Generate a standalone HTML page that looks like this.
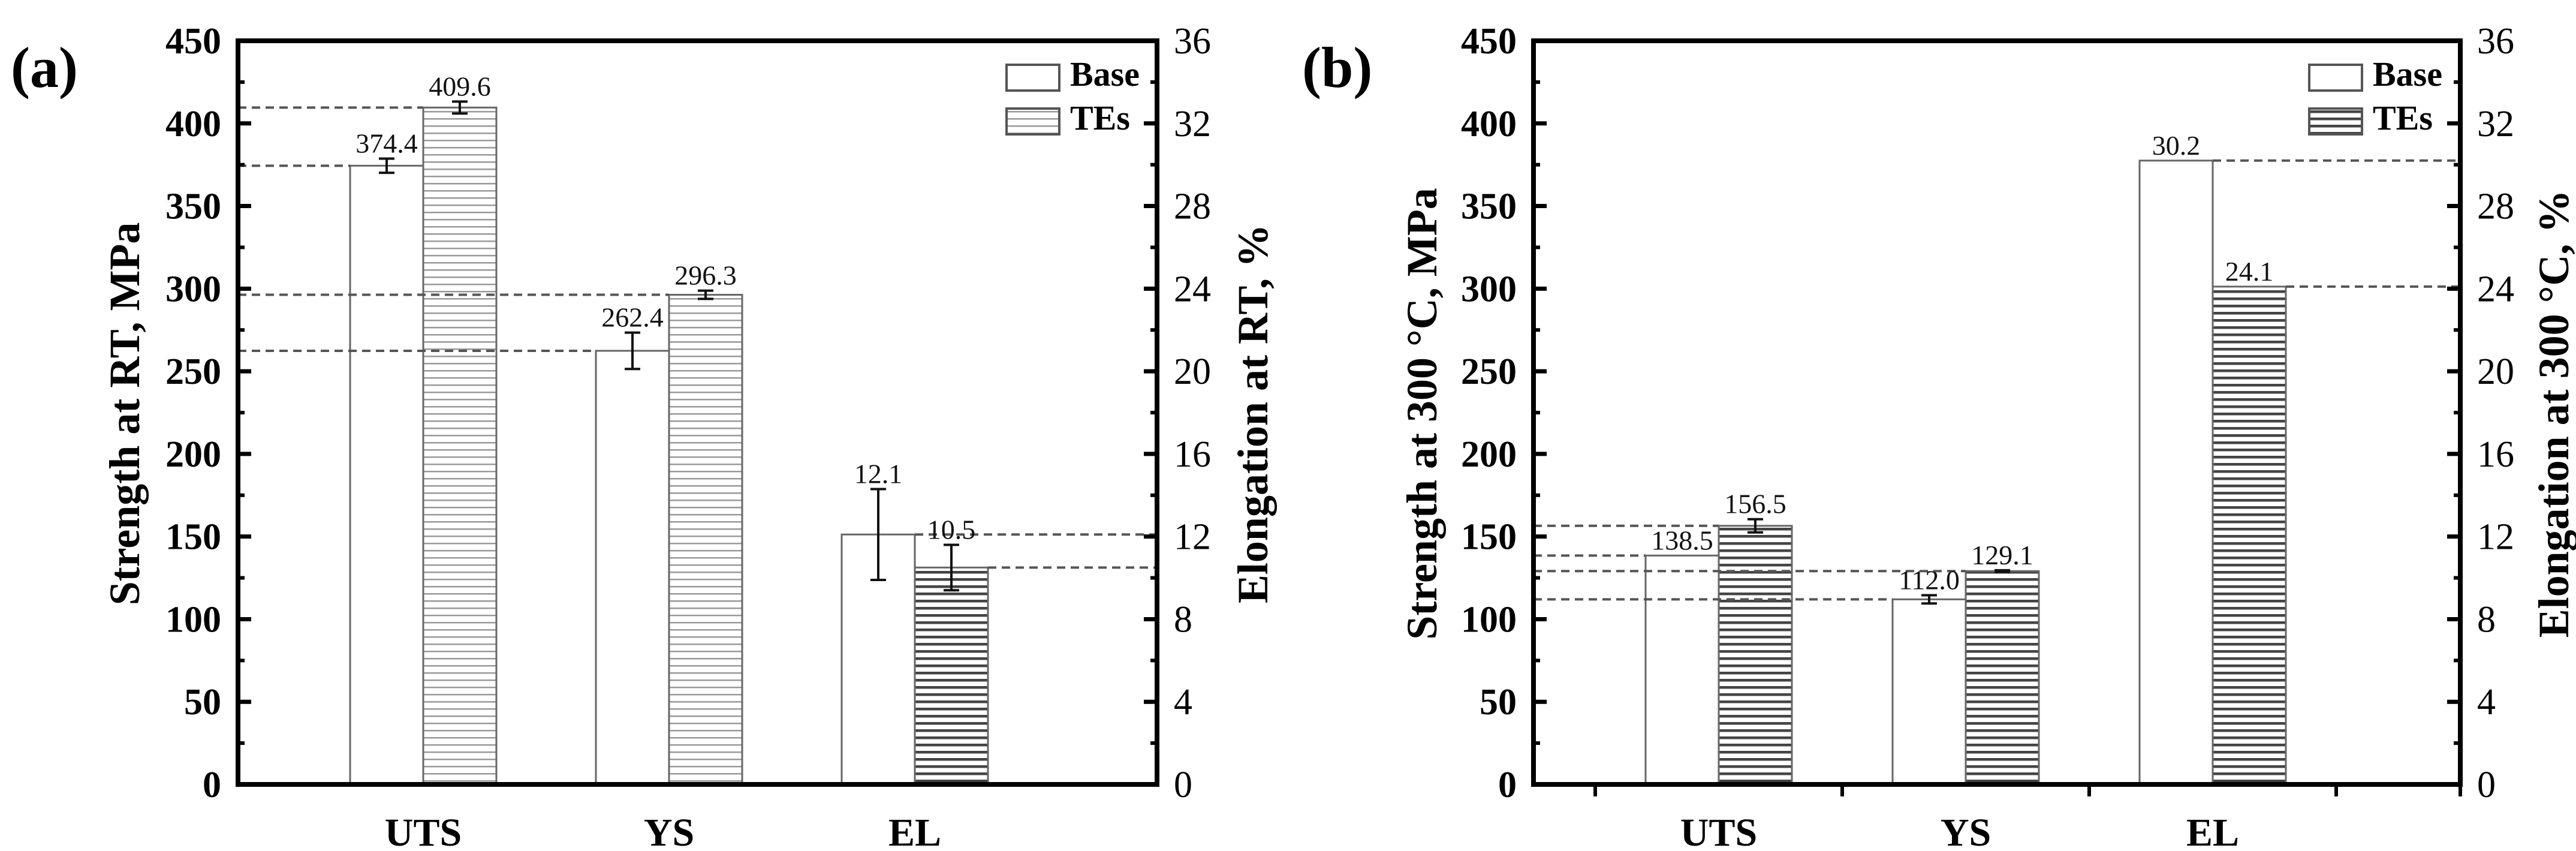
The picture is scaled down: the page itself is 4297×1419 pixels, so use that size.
<!DOCTYPE html>
<html><head><meta charset="utf-8"><style>
html,body{margin:0;padding:0;background:#fff}
svg{display:block}
text{font-family:"Liberation Serif",serif}
</style></head><body>
<svg id="fig" width="4297" height="1419" viewBox="0 0 4297 1419" xmlns="http://www.w3.org/2000/svg">
<defs>
<pattern id="hLight" patternUnits="userSpaceOnUse" width="12" height="12"><rect width="12" height="12" fill="#fff"/><rect y="5" width="12" height="2.5" fill="#999"/></pattern>
<pattern id="hDark" patternUnits="userSpaceOnUse" width="12" height="12"><rect width="12" height="12" fill="#fff"/><rect y="4" width="12" height="4.5" fill="#444"/></pattern>
</defs>
</svg>
<script>
const categories = ["UTS","YS","EL"];
// panel a (RT)
const aBase = [374.4, 262.4, 12.1];
const aTEs = [409.6, 296.3, 10.5];
const aBaseErr = [4.3, 11, 2.2];
const aTEsErr = [3.6, 2.5, 1.1];
// panel b (300 C)
const bBase = [138.5, 112.0, 30.2];
const bTEs = [156.5, 129.1, 24.1];
const bBaseErr = [0, 2.5, 0];
const bTEsErr = [4, 0.5, 0];
const leftTicks = [0,50,100,150,200,250,300,350,400,450];
const rightTicks = [0,4,8,12,16,20,24,28,32,36];

const NS = "http://www.w3.org/2000/svg";
const svg = document.getElementById('fig');
function el(tag, attrs, parent, txt){
  const e = document.createElementNS(NS, tag);
  for (const k in attrs) e.setAttribute(k, attrs[k]);
  if (txt !== undefined) e.textContent = txt;
  (parent||svg).appendChild(e);
  return e;
}
const Y0 = 1308, YT = 68;
function yL(v){ return Y0 - v*(Y0-YT)/450; }
function yR(v){ return Y0 - v*(Y0-YT)/36; }

function panel(o){
  const g = el('g', {});
  
  
  const L=o.left, R=o.right;
  const cx = i => o.c0 + o.step*i;
  const bw = 122;
  // bars
  for (let i=0;i<3;i++){
    const f = i<2 ? yL : yR;
    const series = [[o.base,o.baseErr,cx(i)-bw,'#fff','base'],[o.tes,o.tesErr,cx(i),o.hatch[i],'tes']];
    for (const [vals,errs,x,fill,nm] of series){
      const v = vals[i], top = f(v);
      const r = el('rect',{x:x,y:top,width:bw,height:Y0-top,fill:fill,stroke:'#666','stroke-width':3},g);
      
      
    }
  }
  // dashed reference lines (on top of bars)
  const dash = {stroke:'#555','stroke-width':4,'stroke-dasharray':'14 9'};
  for (let i=0;i<2;i++){
    const vb=o.base[i], vt=o.tes[i];
    const d1 = el('line',Object.assign({x1:L,x2:cx(i)-bw,y1:yL(vb),y2:yL(vb)},dash),g);
    
    
    const d2 = el('line',Object.assign({x1:L,x2:cx(i),y1:yL(vt),y2:yL(vt)},dash),g);
    
    
  }
  {
    const vb=o.base[2], vt=o.tes[2];
    const d1 = el('line',Object.assign({x1:cx(2),x2:R,y1:yR(vb),y2:yR(vb)},dash),g);
    
    
    const d2 = el('line',Object.assign({x1:cx(2)+bw,x2:R,y1:yR(vt),y2:yR(vt)},dash),g);
    
    
  }
  // error bars and value labels
  for (let i=0;i<3;i++){
    const f = i<2 ? yL : yR;
    const series = [[o.base,o.baseErr,cx(i)-bw,'base'],[o.tes,o.tesErr,cx(i),'tes']];
    for (const [vals,errs,x,nm] of series){
      const v = vals[i], top = f(v);
      const e = errs[i];
      const xc = x+bw/2;
      let labTop = top;
      if (e>0){
        const y1=f(v+e), y2=f(v-e);
        const eg = el('g',{stroke:'#111','stroke-width':4},g);
        
        
        el('line',{x1:xc,x2:xc,y1:y1,y2:y2},eg);
        el('line',{x1:xc-13,x2:xc+13,y1:y1,y2:y1},eg);
        el('line',{x1:xc-13,x2:xc+13,y1:y2,y2:y2},eg);
        labTop = Math.min(top,y1);
      }
      const t = el('text',{x:xc,y:labTop-10,'text-anchor':'middle','font-size':46,fill:'#111'},g,v.toFixed(1));
      
      
    }
  }
  // frame
  const fr = el('rect',{x:L,y:YT,width:R-L,height:Y0-YT,fill:'none',stroke:'#000','stroke-width':8},g);
  
  
  for (let k=0;k<leftTicks.length;k++){
    const v=leftTicks[k], y=yL(v);
    el('line',{x1:L,x2:L+22,y1:y,y2:y,stroke:'#000','stroke-width':7},g);
    if (k<leftTicks.length-1) el('line',{x1:L,x2:L+11,y1:yL(v+25),y2:yL(v+25),stroke:'#000','stroke-width':6},g);
    const t = el('text',{x:L-28,y:y+21,'text-anchor':'end','font-size':62,'font-weight':'bold'},g,String(v));
    
    
  }
  for (let k=0;k<rightTicks.length;k++){
    const v=rightTicks[k], y=yR(v);
    el('line',{x1:R,x2:R-22,y1:y,y2:y,stroke:'#000','stroke-width':7},g);
    if (k<rightTicks.length-1) el('line',{x1:R,x2:R-11,y1:yR(v+2),y2:yR(v+2),stroke:'#000','stroke-width':6},g);
    const t = el('text',{x:R+28,y:y+21,'font-size':62},g,String(v));
    
    
  }
  if (o.bottomTicks){
    for (let i=0;i<4;i++){
      const x = cx(i)-o.step/2;
      el('line',{x1:x,x2:x,y1:Y0,y2:Y0+20,stroke:'#000','stroke-width':6},g);
    }
    el('line',{x1:R,x2:R,y1:Y0,y2:Y0+20,stroke:'#000','stroke-width':6},g);
  }
  for (let i=0;i<3;i++){
    const t = el('text',{x:cx(i),y:1410,'text-anchor':'middle','font-size':66,'font-weight':'bold'},g,categories[i]);
    
    
  }
  const yt = el('text',{x:0,y:0,'text-anchor':'middle','font-size':o.tfs,'font-weight':'bold',transform:`translate(${o.ltx},690) rotate(-90)`},g,o.ltitle);
  
  
  const rt = el('text',{x:0,y:0,'text-anchor':'middle','font-size':o.tfs,'font-weight':'bold',transform:`translate(${o.rtx},690) rotate(-90)`},g,o.rtitle);
  
  
  const pl = el('text',{x:o.plx,y:145,'font-size':96,'font-weight':'bold'},g,o.plabel);
  
  
  const lg = el('g',{},g);
  
  
  el('rect',{x:o.lgx,y:108,width:88,height:43,fill:'#fff',stroke:'#555','stroke-width':4},lg);
  el('rect',{x:o.lgx,y:181,width:88,height:43,fill:o.lgHatch,stroke:'#555','stroke-width':4},lg);
  el('text',{x:o.lgx+106,y:143,'font-size':58,'font-weight':'bold'},lg,'Base');
  el('text',{x:o.lgx+106,y:216,'font-size':58,'font-weight':'bold'},lg,'TEs');
}
panel({name:'panel-a-rt',left:397,right:1930,c0:706,step:410,base:aBase,tes:aTEs,baseErr:aBaseErr,tesErr:aTEsErr,
  hatch:['url(#hLight)','url(#hLight)','url(#hDark)'],lgHatch:'url(#hLight)',bottomTicks:false,tfs:72,
  ltx:232,rtx:2114,ltitle:'Strength at RT, MPa',rtitle:'Elongation at RT, %',plabel:'(a)',plx:18,lgx:1679});
panel({name:'panel-b-300c',left:2558,right:4104,c0:2867,step:412,base:bBase,tes:bTEs,baseErr:bBaseErr,tesErr:bTEsErr,
  hatch:['url(#hDark)','url(#hDark)','url(#hDark)'],lgHatch:'url(#hDark)',bottomTicks:true,tfs:72,
  ltx:2396,rtx:4284,ltitle:'Strength at 300 °C, MPa',rtitle:'Elongation at 300 °C, %',plabel:'(b)',plx:2172,lgx:3852});
</script>
</body></html>
